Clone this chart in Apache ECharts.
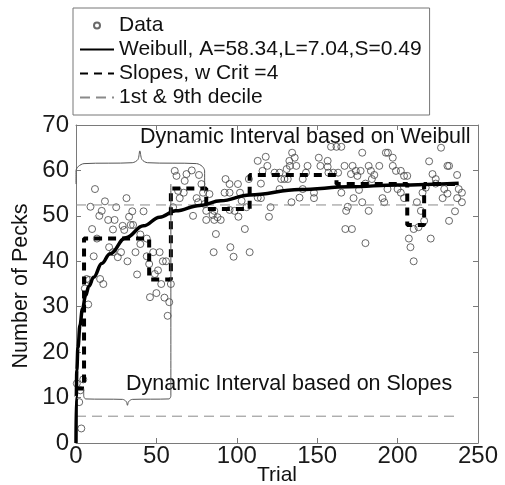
<!DOCTYPE html>
<html>
<head>
<meta charset="utf-8">
<script src="https://cdn.jsdelivr.net/npm/echarts@6.0.0/dist/echarts.min.js"></script>
<style>
  html, body { margin: 0; padding: 0; background: #fff; }
  #chart { width: 505px; height: 485px; }
</style>
</head>
<body>
<div id="chart"></div>
<script>
// raw pecks per trial
const trials = [0.5, 2, 2.7, 3.3, 4.5, 5.5, 6.6, 7.6, 8.2, 9, 10, 11, 11.8, 13, 14.5, 15, 16, 17, 18, 20,
  20.6, 23, 23, 24, 25, 26, 28, 29, 30, 31.4, 32, 33, 34, 35, 35.5, 37, 38, 40, 40, 42,
  44, 44, 45.5, 46, 48, 49, 50, 51, 52, 53, 54, 55, 56, 57, 58, 59, 60.4, 61.4, 62.5, 63.5,
  64.5, 67, 67.6, 68.7, 72, 72.8, 75, 76, 76.5, 78, 79, 80, 81, 81, 83, 85, 85.6, 86, 86, 87,
  88, 90, 92.4, 93, 95.5, 95.5, 95.5, 96, 98, 98.6, 100.7, 101, 102, 103, 105, 106, 107.5, 108, 113, 113,
  115, 115, 116, 118, 119, 120, 121, 123.5, 126.6, 126.6, 127.6, 129.6, 131, 131.7, 132.7, 133, 134, 134.4, 136, 137,
  139, 141, 141, 143, 144, 148, 148, 151, 152, 156.5, 156.5, 157, 158.6, 160, 162, 163, 165, 165, 167, 167.5,
  168, 169, 171, 171.6, 172, 172.6, 174, 175, 176, 177, 178, 178, 180, 180, 182, 182, 183.4, 184, 185.5, 188.6,
  190.6, 191.7, 192.7, 193.7, 194, 197, 197, 199, 200, 202, 202, 204, 204, 206, 207, 208, 210, 210, 212, 213,
  214.5, 215.5, 216.5, 217.5, 219.6, 220.6, 221.7, 223.7, 223.7, 227, 228, 229, 231, 231, 232, 232, 235.7, 237, 237, 238,
  240, 240];
const pecks = [13.1, 9, 11.6, 3.2, 14, 34, 36.1, 30.5, 35.9, 52, 47.1, 41.1, 55.9, 45, 50, 36.1, 51.1, 35, 53.2, 49.1,
  43.1, 47, 42, 49.1, 51.9, 40.9, 42, 47.8, 46.9, 53.9, 40, 49.8, 48, 51, 48, 42, 37.1, 45.9, 43.8, 51,
  45, 41.1, 39.4, 32.1, 42, 37.2, 33, 38, 42, 35, 40, 32, 40, 28, 31, 35, 51.9, 59.9, 58.8, 55.5,
  53.9, 55.1, 57.7, 59.2, 60, 50, 53.9, 53, 59, 57, 55.1, 52.6, 49.1, 51.1, 54.8, 50.2, 42, 51.1, 49.1, 46,
  49.7, 49.1, 55.1, 58.1, 57, 55.1, 51.3, 43.1, 41, 51.1, 57, 49.8, 55.1, 53.3, 47.1, 51.9, 58.1, 42, 62.1, 54,
  57.1, 53.9, 59.9, 63, 61, 49.8, 51.9, 59.5, 59.5, 55.9, 58.1, 58.1, 60.3, 58.1, 62.1, 61, 53, 63.9, 62.8, 61,
  54, 55.9, 58.1, 59.5, 61, 55.1, 53.9, 62.8, 61, 62.1, 60.8, 59.5, 65.2, 59.5, 65.2, 59.5, 65.2, 55.1, 61, 47.1,
  51.1, 52, 59.2, 47.1, 61, 53.9, 59.9, 58.8, 55.7, 59.9, 63.9, 53, 57.1, 44, 61, 51.1, 59.9, 58.1, 59, 61,
  53.9, 53, 63.9, 55.9, 63.9, 62.8, 61, 59.9, 55.9, 59.9, 55.1, 58.8, 53.9, 58.8, 45, 43.1, 47.1, 40, 53, 47.5,
  51.1, 55.1, 48.9, 56.2, 62, 45, 59.2, 58.1, 57.1, 65, 53.9, 55.9, 61, 54.9, 61, 48.9, 51, 59, 53.9, 55.9,
  55.1, 53];

// fitted Weibull curve
const fitTrials = [0, 0.15, 0.5, 1.2, 2.5, 4, 6, 8, 11, 16, 21, 31, 42, 52, 62, 77, 90, 108, 139, 170, 200, 238];
const fitPecks = [0, 10, 16, 21, 26, 29.5, 32.5, 34.5, 36.5, 39.5, 41.6, 45.2, 47.8, 49.7, 51.1, 52.3, 53.3, 54.6, 55.8, 56.4, 56.8, 57.2];

// slopes step function (level holds until next break)
const slopeTrials = [0, 5, 45.5, 59, 81, 108, 162, 206, 216.5, 237];
const slopeLevels = [12, 45, 36, 56, 51.5, 59, 57, 48, 57, 57];

// 1st & 9th decile
const decileLow = 5.9;
const decileHigh = 52.4;
const decileEnd = 237;

// interval braces (trial, pecks)
const weibullBrace = [[0, 57], [0, 59.9], [1.5, 60.9], [5, 61.5], [35, 61.7], [38.5, 62.4], [39.7, 64.3],
  [41, 62.4], [44.5, 61.7], [75, 61.5], [78.5, 60.9], [80, 59.9], [80, 55]];
const slopesBrace = [[4.8, 12], [4.8, 10.4], [6, 9.7], [29, 9.6], [31.3, 9.1], [32, 8.3], [32.7, 9.1],
  [35, 9.6], [57.8, 9.7], [59, 10.4], [59, 57]];

const FONT = '"Liberation Sans", Arial, Helvetica, sans-serif';
const AXIS_GRAY = '#7a7a7a';

const chart = echarts.init(document.getElementById('chart'));

function zipPairs(xs, ys) {
  return xs.map((x, i) => [x, ys[i]]);
}

const baseAxis = {
  type: 'value',
  axisLine: { show: true, onZero: false, lineStyle: { color: AXIS_GRAY, width: 1 } },
  axisTick: { show: true, inside: true, length: 5, lineStyle: { color: AXIS_GRAY } },
  splitLine: { show: false }
};

// line entries in the key: hide the symbol dot, keep only the stroke
const noDot = { opacity: 0 };

const option = {
  animation: false,
  backgroundColor: '#fff',
  textStyle: { fontFamily: FONT },
  grid: { left: 76, right: 27, top: 125, bottom: 42 },
  legend: {
    orient: 'vertical',
    left: 73,
    top: 8,
    padding: [7, 8, 7, 6],
    itemGap: 3,
    itemWidth: 34,
    itemHeight: 6,
    borderColor: '#777',
    borderWidth: 1,
    borderRadius: 0,
    backgroundColor: '#fff',
    selectedMode: false,
    textStyle: { fontSize: 21, color: '#111', fontFamily: FONT },
    data: [
      { name: 'Data' },
      { name: 'Weibull, A=58.34,L=7.04,S=0.49', itemStyle: noDot },
      { name: 'Slopes, w Crit =4', itemStyle: noDot },
      { name: '1st & 9th decile', itemStyle: noDot }
    ]
  },
  xAxis: [
    Object.assign({}, baseAxis, {
      min: 0, max: 250, interval: 50,
      axisLabel: { fontSize: 24, color: '#1a1a1a', margin: 1, fontFamily: FONT }
    }),
    Object.assign({}, baseAxis, {
      position: 'top', min: 0, max: 250, interval: 50,
      axisLabel: { show: false }
    })
  ],
  yAxis: [
    Object.assign({}, baseAxis, {
      min: 0, max: 70, interval: 10,
      axisLabel: { fontSize: 24, color: '#1a1a1a', margin: 7, fontFamily: FONT }
    }),
    Object.assign({}, baseAxis, {
      position: 'right', min: 0, max: 70, interval: 10,
      axisLabel: { show: false }
    })
  ],
  graphic: [
    {
      type: 'text', left: 353, top: 76,
      style: { text: 'Key', font: '25px ' + FONT, fill: '#111' }
    },
    {
      type: 'text', x: 140, y: 137,
      style: { text: 'Dynamic Interval based on Weibull', font: '21.5px ' + FONT, fill: '#111',
        textAlign: 'left', textVerticalAlign: 'middle', align: 'left', verticalAlign: 'middle' }
    },
    {
      type: 'text', x: 126, y: 384,
      style: { text: 'Dynamic Interval based on Slopes', font: '21.5px ' + FONT, fill: '#111',
        textAlign: 'left', textVerticalAlign: 'middle', align: 'left', verticalAlign: 'middle' }
    },
    {
      type: 'text', x: 277, y: 475,
      style: { text: 'Trial', font: '21px ' + FONT, fill: '#111',
        textAlign: 'center', textVerticalAlign: 'middle', align: 'center', verticalAlign: 'middle' }
    },
    {
      type: 'text', x: 21, y: 286, rotation: Math.PI / 2,
      style: { text: 'Number of Pecks', font: '21.5px ' + FONT, fill: '#111',
        textAlign: 'center', textVerticalAlign: 'middle', align: 'center', verticalAlign: 'middle' }
    }
  ],
  series: [
    {
      name: '1st & 9th decile',
      type: 'line',
      symbol: 'none',
      silent: true,
      itemStyle: { color: '#8a8a8a' },
      lineStyle: { color: '#8a8a8a', width: 1, type: [10, 6] },
      data: [[0, decileHigh], [decileEnd, decileHigh]]
    },
    {
      name: '1st & 9th decile',
      type: 'line',
      symbol: 'none',
      silent: true,
      itemStyle: { color: '#8a8a8a' },
      lineStyle: { color: '#8a8a8a', width: 1, type: [10, 6] },
      data: [[0, decileLow], [decileEnd, decileLow]]
    },
    {
      name: 'Data',
      type: 'scatter',
      symbol: 'circle',
      symbolSize: 7,
      itemStyle: { color: 'rgba(255,255,255,0)', borderColor: '#444', borderWidth: 1 },
      data: zipPairs(trials, pecks)
    },
    {
      name: 'Slopes, w Crit =4',
      type: 'line',
      step: 'end',
      symbol: 'none',
      itemStyle: { color: '#000' },
      lineStyle: { color: '#000', width: 4, type: [8, 6] },
      data: zipPairs(slopeTrials, slopeLevels)
    },
    {
      name: 'Weibull, A=58.34,L=7.04,S=0.49',
      type: 'line',
      symbol: 'none',
      smooth: 0.4,
      smoothMonotone: 'x',
      itemStyle: { color: '#000' },
      lineStyle: { color: '#000', width: 3.5 },
      data: zipPairs(fitTrials, fitPecks)
    },
    {
      name: 'brace-weibull',
      type: 'line',
      symbol: 'none',
      silent: true,
      smooth: 0.3,
      lineStyle: { color: '#555', width: 1 },
      data: weibullBrace
    },
    {
      name: 'brace-slopes',
      type: 'line',
      symbol: 'none',
      silent: true,
      smooth: 0.3,
      lineStyle: { color: '#555', width: 1 },
      data: slopesBrace
    }
  ]
};

chart.setOption(option);
</script>
</body>
</html>
